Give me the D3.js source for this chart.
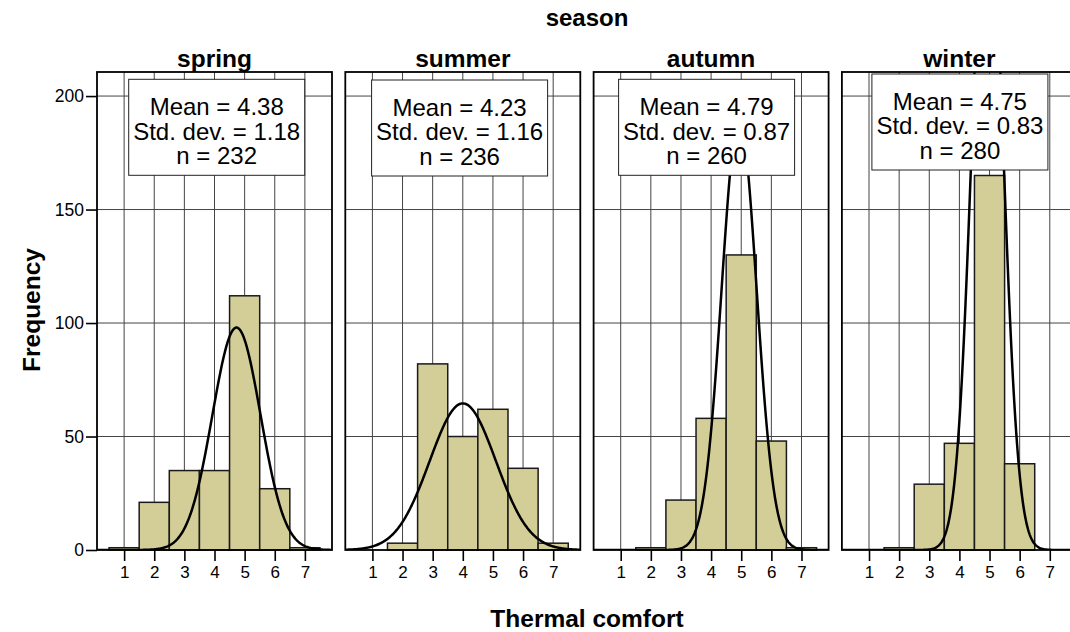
<!DOCTYPE html>
<html>
<head>
<meta charset="utf-8">
<script src="https://cdn.jsdelivr.net/npm/d3@7"></script>
<style>
  body{margin:0;background:#fff;}
  svg{display:block;font-family:"Liberation Sans",Arial,sans-serif;}
</style>
</head>
<body>
<div id="chart"></div>
<script>
// data
var seasons = ['spring', 'summer', 'autumn', 'winter'];
var bins = [1, 2, 3, 4, 5, 6, 7];
var springCounts = [1, 21, 35, 35, 112, 27, 1];
var summerCounts = [0, 3, 82, 50, 62, 36, 3];
var autumnCounts = [0, 1, 22, 58, 130, 48, 1];
var winterCounts = [0, 1, 29, 47, 165, 38, 0];
var means = [4.38, 4.23, 4.79, 4.75];
var stdDevs = [1.18, 1.16, 0.87, 0.83];
var ns = [232, 236, 260, 280];
// normal curve as drawn (centre, spread, height)
var curveCentre = [4.73, 4.0, 4.93, 4.93];
var curveSpread = [0.8, 1.1, 0.58, 0.51];
var curvePeak = [98, 64.6, 190, 300];
var yTicks = [0, 50, 100, 150, 200];

var counts = [springCounts, summerCounts, autumnCounts, winterCounts];

(function(){
    var W = 1070, H = 632;
    var top = 72, bottom = 550;
    var panelW = 235, panelStep = 248.3, firstLeft = 97;
    // stats box placement inside each panel
    var boxLeft = [31.7, 26.3, 25, 30], boxTop = [79.3, 80, 79.3, 74];
    var boxW = 176, boxH = 96;
    var barFill = '#d3ce97';
    var font = '"Liberation Sans",Arial,sans-serif';

    var svg = d3.select('#chart').append('svg')
        .attr('width', W).attr('height', H);

    var y = d3.scaleLinear().domain([0, 210.6]).range([bottom, top]);

    svg.append('text').attr('x', 587).attr('y', 26)
        .attr('text-anchor', 'middle').attr('font-weight', 'bold')
        .attr('font-size', 24).text('season');

    svg.append('text').attr('x', 587).attr('y', 627)
        .attr('text-anchor', 'middle').attr('font-weight', 'bold')
        .attr('font-size', 24.5).text('Thermal comfort');

    svg.append('text').attr('transform', 'translate(40,310) rotate(-90)')
        .attr('text-anchor', 'middle').attr('font-weight', 'bold')
        .attr('font-size', 24.5).text('Frequency');

    // y axis on the first panel
    var yAxis = svg.append('g').attr('transform', 'translate(' + firstLeft + ',0)')
        .call(d3.axisLeft(y).tickValues(yTicks).tickSize(11).tickPadding(2));
    yAxis.select('.domain').remove();
    yAxis.selectAll('line').attr('stroke', '#000').attr('stroke-width', 1.6);
    yAxis.selectAll('text').attr('font-size', 17.5).attr('fill', '#000')
        .attr('font-family', font);

    seasons.forEach(function(name, i){
        var left = firstLeft + i * panelStep;
        var x = d3.scaleLinear().domain([0.1, 7.9]).range([left, left + panelW]);
        var g = svg.append('g');

        var clipId = 'clip' + i;
        svg.append('clipPath').attr('id', clipId).append('rect')
            .attr('x', left).attr('y', top).attr('width', panelW).attr('height', bottom - top);

        // grid
        g.selectAll('.vgrid').data(bins).enter().append('line')
            .attr('x1', function(d){ return x(d); }).attr('x2', function(d){ return x(d); })
            .attr('y1', top).attr('y2', bottom)
            .attr('stroke', '#444').attr('stroke-width', 1);
        g.selectAll('.hgrid').data(yTicks.slice(1)).enter().append('line')
            .attr('x1', left).attr('x2', left + panelW)
            .attr('y1', function(d){ return y(d); }).attr('y2', function(d){ return y(d); })
            .attr('stroke', '#444').attr('stroke-width', 1);

        // bars
        var barData = bins.map(function(b, k){ return {bin: b, v: counts[i][k]}; })
            .filter(function(d){ return d.v > 0; });
        g.selectAll('.bar').data(barData).enter().append('rect')
            .attr('x', function(d){ return x(d.bin - 0.5); })
            .attr('width', function(d){ return x(d.bin + 0.5) - x(d.bin - 0.5); })
            .attr('y', function(d){ return y(d.v); })
            .attr('height', function(d){ return y(0) - y(d.v); })
            .attr('fill', barFill).attr('stroke', '#1a1a1a').attr('stroke-width', 1.5);

        // fitted normal curve
        var xs = d3.range(0.1, 7.91, 0.02);
        var line = d3.line()
            .x(function(v){ return x(v); })
            .y(function(v){
                var d = v - curveCentre[i];
                return y(curvePeak[i] * Math.exp(-d * d / (2 * curveSpread[i] * curveSpread[i])));
            });
        g.append('path').datum(xs).attr('d', line)
            .attr('clip-path', 'url(#' + clipId + ')')
            .attr('fill', 'none').attr('stroke', '#000').attr('stroke-width', 2.5);

        // frame
        g.append('rect').attr('x', left).attr('y', top)
            .attr('width', panelW).attr('height', bottom - top)
            .attr('fill', 'none').attr('stroke', '#000').attr('stroke-width', 1.8);

        // x axis
        var xAxis = g.append('g').attr('transform', 'translate(0,' + bottom + ')')
            .call(d3.axisBottom(x).tickValues(bins).tickSize(11).tickPadding(5));
        xAxis.select('.domain').remove();
        xAxis.selectAll('line').attr('stroke', '#000').attr('stroke-width', 1.6);
        xAxis.selectAll('text').attr('font-size', 17).attr('fill', '#000')
            .attr('font-family', font);

        // panel title
        g.append('text').attr('x', left + panelW / 2).attr('y', 67)
            .attr('text-anchor', 'middle').attr('font-weight', 'bold')
            .attr('font-size', 24.5).text(name);

        // stats box
        var bx = left + boxLeft[i], by = boxTop[i];
        g.append('rect').attr('x', bx).attr('y', by).attr('width', boxW).attr('height', boxH)
            .attr('fill', '#fff').attr('stroke', '#222').attr('stroke-width', 1);
        var lines = ['Mean = ' + means[i].toFixed(2),
                     'Std. dev. = ' + stdDevs[i].toFixed(2),
                     'n = ' + ns[i]];
        g.selectAll('.stat').data(lines).enter().append('text')
            .attr('x', bx + boxW / 2)
            .attr('y', function(d, k){ return by + 35.5 + k * 24.7; })
            .attr('text-anchor', 'middle').attr('font-size', 24)
            .text(function(d){ return d; });
    });
})();
</script>
</body>
</html>
